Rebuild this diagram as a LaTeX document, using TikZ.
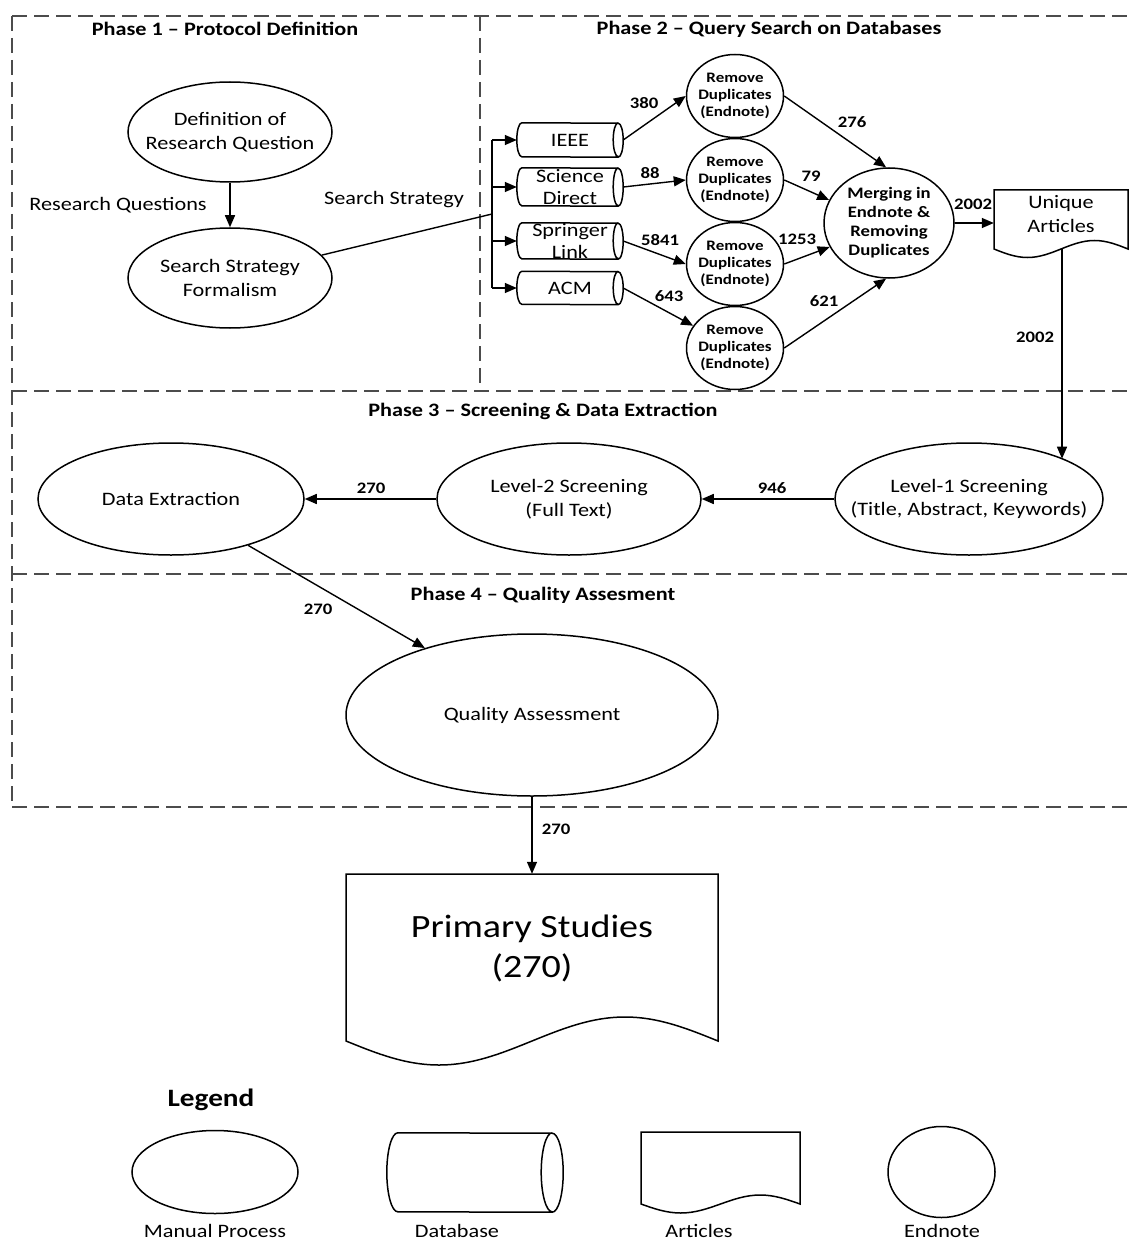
\documentclass[tikz,border=0pt]{standalone}
\usepackage{fontspec}
\setmainfont{Carlito}[FakeStretch=1.17]
\usetikzlibrary{arrows.meta,shapes.geometric}

% database (horizontal cylinder): name, x, y, width, height, cap radius, text
\newcommand{\dbnode}[7]{%
  \node[rectangle, minimum width=#4pt, minimum height=#5pt, inner sep=0pt] (#1) at (#2,#3) {};
  \draw[shp] ([xshift=#6pt]#1.north west) arc[start angle=90, end angle=270, x radius=#6pt, y radius=#5pt/2]
    -- ([xshift=-#6pt]#1.south east) arc[start angle=-90, end angle=90, x radius=#6pt, y radius=#5pt/2] -- cycle
    ([xshift=-#6pt]#1.north east) arc[start angle=90, end angle=270, x radius=#6pt, y radius=#5pt/2];
  \node[dbtxt, align=center] (#1-t) at (#1) {#7};
}
% document shape: x0, ytop, x1, ybottom(mid), amplitude
\newcommand{\docshape}[5]{%
  \pgfmathsetmacro{\dqa}{#1+(#3-#1)/4}%
  \pgfmathsetmacro{\dqb}{#1+(#3-#1)/2}%
  \pgfmathsetmacro{\dqc}{#1+3*(#3-#1)/4}%
  \pgfmathsetmacro{\dylo}{#4-#5}%
  \pgfmathsetmacro{\dyhi}{#4+#5}%
  \draw[shp] (#1,#2) -- (#1,#4) sin (\dqa,\dylo) cos (\dqb,#4) sin (\dqc,\dyhi) cos (#3,#4) -- (#3,#2) -- cycle;
}
% ellipse with separate text: name, x, y, width, height, text style, text
\newcommand{\ellnode}[7]{%
  \node[ellipse, shp, minimum width=#4pt, minimum height=#5pt, inner sep=0pt] (#1) at (#2,#3) {};
  \node[#6, align=center] (#1-t) at (#1) {#7};
}

\begin{document}
\begin{tikzpicture}[x=1pt,y=1pt,
  shp/.style={draw=black, line width=1.5pt},
  conn/.style={draw=black, line width=1.4pt},
  arr/.style={conn, -{Triangle[length=12pt,width=10pt]}},
  dashline/.style={draw=black!70, line width=1.8pt, dash pattern=on 15pt off 7pt},
  txt/.style={inner sep=0pt, font=\fontsize{19}{23.5}\selectfont},
  dbtxt/.style={inner sep=0pt, font=\fontsize{19}{22}\selectfont},
  rdtxt/.style={inner sep=0pt, font=\bfseries\fontsize{14.5}{17.3}\selectfont},
  mgtxt/.style={inner sep=0pt, font=\bfseries\fontsize{16}{19}\selectfont},
  num/.style={inner sep=0pt, font=\bfseries\fontsize{16}{19}\selectfont},
  phtitle/.style={inner sep=0pt, font=\bfseries\fontsize{19}{23}\selectfont},
  bigtxt/.style={inner sep=0pt, font=\fontsize{32.5}{40}\selectfont},
]
\fill[white] (0,0) rectangle (1134,-1241);
\useasboundingbox (0,0) rectangle (1134,-1241);

% phase frames
\draw[dashline] (12,-16) -- (1134,-16);
\draw[dashline] (12,-16) -- (12,-807);
\draw[dashline] (480,-16) -- (480,-391);
\draw[dashline] (12,-391) -- (1134,-391);
\draw[dashline] (12,-574) -- (1134,-574);
\draw[dashline] (12,-807) -- (1134,-807);

\node[phtitle] (t1) at (225,-29) {Phase 1 – Protocol Definition};
\node[phtitle] (t2) at (769,-29) {Phase 2 – Query Search on Databases};
\node[phtitle] (t3) at (543,-411) {Phase 3 – Screening \& Data Extraction};
\node[phtitle] (t4) at (543,-595) {Phase 4 – Quality Assesment};

% Phase 1
\ellnode{drq}{230}{-132}{204}{100}{txt}{Definition of\\Research Question}
\ellnode{ssf}{230}{-278}{204}{100}{txt}{Search Strategy\\Formalism}
\draw[arr] (drq) -- (ssf);
\node[txt] (rql) at (118,-205) {Research Questions};
\node[txt] (ssl) at (394,-200) {Search Strategy};
\coordinate (br) at (492,-214);
\draw[conn] (ssf.14) -- (br);

% Phase 2 databases
\dbnode{ieee}{570}{-140}{106}{34}{5}{IEEE}
\dbnode{sd}{570}{-187}{106}{38}{5}{Science\\Direct}
\dbnode{sl}{570}{-241}{106}{36}{5}{Springer\\Link}
\dbnode{acm}{570}{-288}{106}{33}{5}{ACM}
\draw[conn] (br |- ieee.west) -- (br |- acm.west);
\foreach \n in {ieee,sd,sl,acm} \draw[arr] (br |- \n.west) -- (\n.west);

% remove duplicates
\ellnode{rd1}{735}{-96}{97}{83}{rdtxt}{Remove\\Duplicates\\(Endnote)}
\ellnode{rd2}{735}{-180}{97}{83}{rdtxt}{Remove\\Duplicates\\(Endnote)}
\ellnode{rd3}{735}{-264}{97}{83}{rdtxt}{Remove\\Duplicates\\(Endnote)}
\ellnode{rd4}{735}{-348}{97}{83}{rdtxt}{Remove\\Duplicates\\(Endnote)}
\ellnode{mg}{889}{-223}{130}{110}{mgtxt}{Merging in\\Endnote \&\\Removing\\Duplicates}

\draw[arr] (ieee.east) -- (rd1.west);
\draw[arr] (sd.east) -- (rd2.west);
\draw[arr] (sl.east) -- (rd3.west);
\draw[arr] (acm.east) -- (rd4.152);
\draw[arr] (rd1.east) -- (mg.93);
\draw[arr] (rd2.east) -- (mg.159);
\draw[arr] (rd3.east) -- (mg.202);
\draw[arr] (rd4.east) -- (mg.267);

\node[num] (n380) at (644,-103) {380};
\node[num] (n88) at (650,-173) {88};
\node[num] (n5841) at (660,-240) {5841};
\node[num] (n643) at (669,-296) {643};
\node[num] (n276) at (852,-122) {276};
\node[num] (n79) at (811,-176) {79};
\node[num] (n1253) at (797,-239) {1253};
\node[num] (n621) at (824,-301) {621};

% unique articles
\node[rectangle, minimum width=134pt, minimum height=59pt, inner sep=0pt] (ua) at (1061,-219.5) {};
\docshape{994}{-190}{1128}{-249}{8.5}
\node[txt, font=\fontsize{19}{24}\selectfont, align=center] (ua-t) at (1061,-214) {Unique\\Articles};
\draw[arr] (mg.east) -- (mg.east -| ua.west);
\node[num] (n2002a) at (973,-204) {2002};
\coordinate (uab) at (1062,-249);

% Phase 3
\ellnode{de}{171}{-499}{266}{112}{txt}{Data Extraction}
\ellnode{l2}{569}{-499}{264}{112}{txt}{Level-2 Screening\\(Full Text)}
\ellnode{l1}{969}{-499}{268}{112}{txt}{Level-1 Screening\\(Title, Abstract, Keywords)}
\draw[arr] (uab) -- (uab |- l1.23.4);
\node[num] (n2002b) at (1035,-337) {2002};
\draw[arr] (l1) -- (l2);
\draw[arr] (l2) -- (de);
\node[num] (n946) at (772,-488) {946};
\node[num] (n270a) at (371,-488) {270};

% Phase 4
\ellnode{qa}{532}{-715}{372}{162}{txt}{Quality Assessment}
\draw[arr] (de.-31.8) -- (qa.148.7);
\node[num] (n270b) at (318,-609) {270};

% primary studies
\node[rectangle, minimum width=372pt, minimum height=167pt, inner sep=0pt] (ps) at (532,-957.5) {};
\docshape{346}{-874}{718}{-1041}{24}
\node[bigtxt, align=center] (ps-t) at (532,-948) {Primary Studies\\(270)};
\draw[arr] (qa.south) -- (ps.north);
\node[num] (n270c) at (556,-829) {270};

% legend
\node[inner sep=0pt, font=\bfseries\fontsize{25}{30}\selectfont] (lg) at (211,-1100) {Legend};
\node[ellipse, shp, minimum width=166pt, minimum height=83pt, inner sep=0pt] (lmp) at (215,-1172) {};
\dbnode{ldb}{475}{-1172.5}{176}{79}{11}{}
\node[rectangle, minimum width=159pt, minimum height=72pt, inner sep=0pt] (lar) at (720.5,-1168) {};
\docshape{641}{-1132}{800}{-1204}{9}
\node[ellipse, shp, minimum width=107pt, minimum height=91pt, inner sep=0pt] (len) at (941.5,-1172) {};
\node[txt, anchor=base] (lmp-l) at (215,-1237.5) {Manual Process};
\node[txt, anchor=base] (ldb-l) at (457,-1237.5) {Database};
\node[txt, anchor=base] (lar-l) at (699,-1237.5) {Articles};
\node[txt, anchor=base] (len-l) at (942,-1237.5) {Endnote};
\end{tikzpicture}
\end{document}
